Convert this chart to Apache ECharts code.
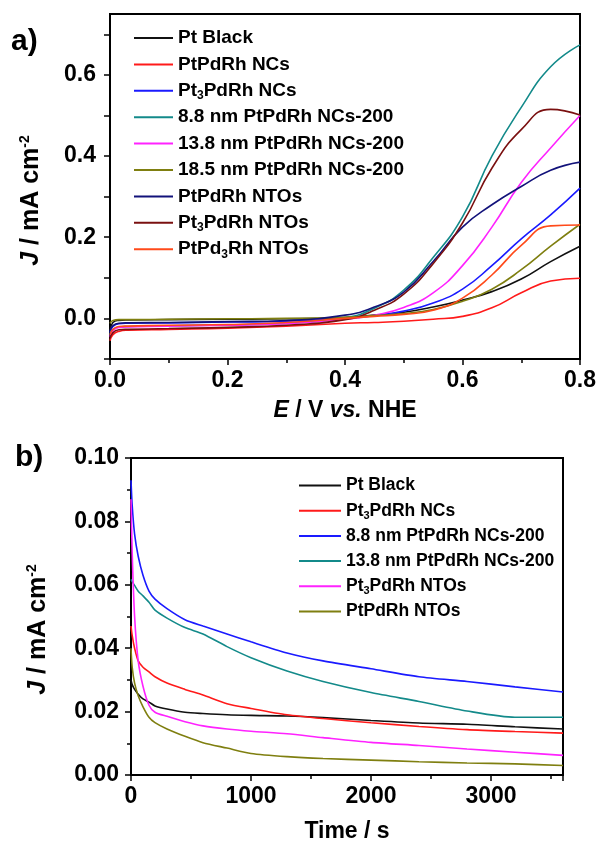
<!DOCTYPE html>
<html>
<head>
<meta charset="utf-8">
<script src="https://cdn.jsdelivr.net/npm/echarts@6/dist/echarts.min.js"></script>
<style>html,body{margin:0;padding:0;background:#fff}#c{width:601px;height:844px}</style>
</head>
<body>
<div id="c"></div>
<script>
// ---------- Panel a: LSV curves ----------
const E_A = [0, 0.005, 0.015, 0.03, 0.1, 0.2, 0.3, 0.4, 0.45, 0.5, 0.55, 0.6, 0.65, 0.7, 0.75, 0.8];
const A_NAMES = ['Pt Black', 'PtPdRh NCs', 'Pt3PdRh NCs', '8.8 nm PtPdRh NCs-200', '13.8 nm PtPdRh NCs-200',
  '18.5 nm PtPdRh NCs-200', 'PtPdRh NTOs', 'Pt3PdRh NTOs', 'PtPd3Rh NTOs'];
const A_COLORS = ['#111111', '#ff1a1a', '#1a1aff', '#138a8a', '#ff22ff', '#7f7f10', '#12127a', '#7a1010', '#ff4a1a'];
const A_PtBlack   = [-0.03, -0.01, -0.005, -0.004, -0.003, -0.002, -0.001, 0.002, 0.008, 0.015, 0.028, 0.045, 0.066, 0.097, 0.14, 0.178];
const A_PtPdRhNCs = [-0.055, -0.04, -0.032, -0.029, -0.027, -0.024, -0.019, -0.012, -0.01, -0.007, -0.002, 0.005, 0.026, 0.063, 0.092, 0.099];
const A_Pt3NCs    = [-0.035, -0.02, -0.013, -0.012, -0.011, -0.009, -0.007, 0.0, 0.007, 0.018, 0.038, 0.072, 0.13, 0.196, 0.255, 0.321];
const A_88nm      = [-0.04, -0.028, -0.021, -0.02, -0.018, -0.016, -0.012, 0.002, 0.025, 0.07, 0.15, 0.25, 0.4, 0.52, 0.62, 0.674];
const A_138nm     = [-0.045, -0.03, -0.022, -0.021, -0.019, -0.017, -0.013, -0.002, 0.008, 0.027, 0.063, 0.13, 0.225, 0.335, 0.42, 0.50];
const A_185nm     = [-0.012, -0.005, -0.003, -0.003, -0.002, -0.001, 0.0, 0.003, 0.007, 0.012, 0.022, 0.042, 0.072, 0.12, 0.178, 0.232];
const A_PtPdRhNTO = [-0.03, -0.018, -0.012, -0.011, -0.01, -0.008, -0.005, 0.008, 0.028, 0.065, 0.14, 0.225, 0.28, 0.325, 0.365, 0.385];
const A_Pt3NTO    = [-0.05, -0.035, -0.028, -0.027, -0.025, -0.022, -0.017, -0.003, 0.02, 0.06, 0.135, 0.235, 0.37, 0.465, 0.515, 0.501];
const A_Pd3NTO    = [-0.04, -0.027, -0.02, -0.019, -0.017, -0.015, -0.01, 0.0, 0.005, 0.01, 0.02, 0.05, 0.107, 0.18, 0.228, 0.23];
const A_VALUES = [A_PtBlack, A_PtPdRhNCs, A_Pt3NCs, A_88nm, A_138nm, A_185nm, A_PtPdRhNTO, A_Pt3NTO, A_Pd3NTO];

// ---------- Panel b: chronoamperometry ----------
const T_B = [0, 10, 30, 60, 100, 150, 200, 300, 450, 600, 800, 1000, 1300, 1600, 2000, 2400, 2800, 3200, 3600];
const B_NAMES = ['Pt Black', 'Pt3PdRh NCs', '8.8 nm PtPdRh NCs-200', '13.8 nm PtPdRh NCs-200', 'Pt3PdRh NTOs', 'PtPdRh NTOs'];
const B_COLORS = ['#111111', '#ff1a1a', '#1a1aff', '#138a8a', '#ff22ff', '#7f7f10'];
const B_PtBlack = [0.030, 0.0285, 0.027, 0.0255, 0.024, 0.023, 0.0218, 0.0208, 0.0198, 0.0194, 0.019, 0.0188, 0.0186, 0.0181, 0.0172, 0.0164, 0.016, 0.0152, 0.0145];
const B_Pt3NCs  = [0.047, 0.044, 0.040, 0.036, 0.034, 0.0325, 0.031, 0.029, 0.027, 0.0252, 0.0225, 0.021, 0.019, 0.0178, 0.0165, 0.0153, 0.0143, 0.0137, 0.0132];
const B_88nm    = [0.093, 0.085, 0.076, 0.069, 0.063, 0.058, 0.0555, 0.0525, 0.049, 0.047, 0.0445, 0.042, 0.0385, 0.036, 0.0335, 0.031, 0.0295, 0.0278, 0.0262];
const B_138nm   = [0.0617, 0.061, 0.0598, 0.058, 0.0565, 0.0545, 0.052, 0.0495, 0.0465, 0.0445, 0.0405, 0.037, 0.0328, 0.0295, 0.026, 0.0232, 0.0202, 0.0182, 0.0182];
const B_Pt3NTO  = [0.087, 0.070, 0.050, 0.036, 0.028, 0.022, 0.0198, 0.0185, 0.0168, 0.0155, 0.0145, 0.0138, 0.013, 0.0118, 0.0103, 0.0093, 0.0082, 0.0072, 0.0062];
const B_PtPdRhNTO = [0.040, 0.034, 0.029, 0.025, 0.0215, 0.0182, 0.0165, 0.0145, 0.0122, 0.0102, 0.0085, 0.0068, 0.0058, 0.0052, 0.0047, 0.0042, 0.0038, 0.0035, 0.003];
const B_VALUES = [B_PtBlack, B_Pt3NCs, B_88nm, B_138nm, B_Pt3NTO, B_PtPdRhNTO];

const FONT = '"Liberation Sans", Arial, sans-serif';

function subFmt(name) {
  return name.replace('Pt3', 'Pt{s|3}').replace('Pd3', 'Pd{s|3}');
}
function legendRich(fs) {
  return {
    s: { fontSize: Math.round(fs * 0.62), fontWeight: 'bold', fontFamily: FONT, color: '#000', lineHeight: 7, verticalAlign: 'bottom' }
  };
}
const nameRich = {
  i: { fontStyle: 'italic', fontWeight: 'bold', fontSize: 23, fontFamily: FONT, color: '#000' },
  sup: { fontSize: 13, fontWeight: 'bold', fontFamily: FONT, color: '#000', verticalAlign: 'top', lineHeight: 24 }
};
const yNameRich = {
  i: { fontStyle: 'italic', fontWeight: 'bold', fontSize: 25, fontFamily: FONT, color: '#000' },
  sup: { fontSize: 14, fontWeight: 'bold', fontFamily: FONT, color: '#000', verticalAlign: 'top', lineHeight: 26 }
};
function axisCommon(gridIndex) {
  return {
    gridIndex: gridIndex,
    axisLine: { show: true, onZero: false, lineStyle: { color: '#000', width: 2 } },
    axisTick: { show: true, length: 6, inside: false, lineStyle: { color: '#000', width: 1.5 } },
    minorTick: { show: true, splitNumber: 2, length: 4, lineStyle: { color: '#000', width: 1.5 } },
    splitLine: { show: false },
    nameTextStyle: { fontSize: 23, fontWeight: 'bold', fontFamily: FONT, color: '#000' }
  };
}

const series = [];
A_NAMES.forEach((n, i) => {
  series.push({
    name: n, type: 'line', xAxisIndex: 0, yAxisIndex: 0,
    data: E_A.map((e, k) => [e, A_VALUES[i][k]]),
    symbol: 'none', smooth: 0.5,
    lineStyle: { color: A_COLORS[i], width: 1.6 }, itemStyle: { color: A_COLORS[i] },
    z: 3
  });
});
B_NAMES.forEach((n, i) => {
  series.push({
    name: 'b:' + n, type: 'line', xAxisIndex: 1, yAxisIndex: 1,
    data: T_B.map((t, k) => [t, B_VALUES[i][k]]),
    symbol: 'none', smooth: 0.25,
    lineStyle: { color: B_COLORS[i], width: 1.6 }, itemStyle: { color: B_COLORS[i] },
    z: 3
  });
});

const chart = echarts.init(document.getElementById('c'), null, { renderer: 'canvas' });
chart.setOption({
  animation: false,
  backgroundColor: '#fff',
  title: [
    { text: 'a)', left: 6, top: 22, textStyle: { fontSize: 30, fontWeight: 'bold', fontFamily: FONT, color: '#000' } },
    { text: 'b)', left: 10, top: 438, textStyle: { fontSize: 30, fontWeight: 'bold', fontFamily: FONT, color: '#000' } }
  ],
  grid: [
    { left: 110, right: 21, top: 14, bottom: 485, show: true, borderColor: '#000', borderWidth: 2, backgroundColor: 'transparent' },
    { left: 131, right: 38, top: 458, bottom: 68, show: true, borderColor: '#000', borderWidth: 2, backgroundColor: 'transparent' }
  ],
  legend: [
    {
      data: A_NAMES, orient: 'vertical', left: 129, top: 22, itemWidth: 39, itemHeight: 2, itemGap: 4.4,
      icon: 'rect', formatter: subFmt, inactiveColor: '#000',
      textStyle: { fontSize: 19, fontWeight: 'bold', fontFamily: FONT, color: '#000', lineHeight: 22, rich: legendRich(19) }
    },
    {
      data: B_NAMES.map(n => 'b:' + n), orient: 'vertical', left: 294, top: 470, itemWidth: 42, itemHeight: 2, itemGap: 4.2,
      icon: 'rect', formatter: n => subFmt(n.slice(2)),
      textStyle: { fontSize: 17.5, fontWeight: 'bold', fontFamily: FONT, color: '#000', lineHeight: 21, rich: legendRich(17.5) }
    }
  ],
  xAxis: [
    Object.assign(axisCommon(0), {
      type: 'value', min: 0, max: 0.8, interval: 0.2,
      name: '{i|E} / V {i|vs.} NHE', nameLocation: 'middle', nameGap: 40,
      nameTextStyle: { fontSize: 23, fontWeight: 'bold', fontFamily: FONT, color: '#000', rich: nameRich },
      axisLabel: { margin: 10, fontSize: 23, fontWeight: 'bold', fontFamily: FONT, color: '#000', formatter: v => v.toFixed(1) }
    }),
    Object.assign(axisCommon(1), {
      type: 'value', min: 0, max: 3600, interval: 1000,
      name: 'Time / s', nameLocation: 'middle', nameGap: 45,
      axisLabel: { margin: 10, fontSize: 23, fontWeight: 'bold', fontFamily: FONT, color: '#000', showMaxLabel: false,
        formatter: v => (v % 1000 === 0 ? String(v) : '') }
    })
  ],
  yAxis: [
    Object.assign(axisCommon(0), {
      type: 'value', min: -0.1, max: 0.75, interval: 0.1,
      minorTick: { show: false },
      name: '{i|J} / mA cm{sup|-2}', nameLocation: 'middle', nameGap: 66, nameRotate: 90,
      nameTextStyle: { fontSize: 25, fontWeight: 'bold', fontFamily: FONT, color: '#000', rich: yNameRich, padding: [0, 28, 0, 0] },
      axisLabel: { margin: 14, fontSize: 23, fontWeight: 'bold', fontFamily: FONT, color: '#000', showMaxLabel: false,
        formatter: v => {
          const r = v / 0.2;
          if (Math.abs(r - Math.round(r)) > 1e-6 || v < -1e-6) return '';
          return Math.abs(v) < 1e-9 ? '0.0' : v.toFixed(1);
        } }
    }),
    Object.assign(axisCommon(1), {
      type: 'value', min: 0, max: 0.1, interval: 0.02,
      name: '{i|J} / mA cm{sup|-2}', nameLocation: 'middle', nameGap: 80, nameRotate: 90,
      nameTextStyle: { fontSize: 25, fontWeight: 'bold', fontFamily: FONT, color: '#000', rich: yNameRich, padding: [0, 26, 0, 0] },
      axisLabel: { margin: 12, fontSize: 23, fontWeight: 'bold', fontFamily: FONT, color: '#000', formatter: v => v.toFixed(2) }
    })
  ],
  series: series
});
</script>
</body>
</html>
